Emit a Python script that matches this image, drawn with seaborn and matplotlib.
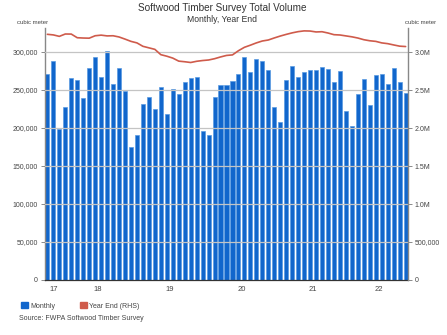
import numpy as np
import pandas as pd
import matplotlib
matplotlib.use("Agg")
import matplotlib.pyplot as plt
import seaborn as sns
from matplotlib.ticker import FuncFormatter, FixedLocator
from matplotlib.patches import Patch
from matplotlib.lines import Line2D

months = pd.date_range("2017-10-01", "2022-10-01", freq="MS").strftime("%Y-%m").tolist()

monthly = [270660, 288160, 198250, 227630, 265790, 263600, 239470, 278500, 293420, 266670,
           301300, 257460, 279380, 248680, 174560, 190350, 231140, 241230, 225440, 254390,
           218860, 251750, 244300, 260090, 265790, 266670, 196050, 191230, 241230, 256580,
           256580, 261400, 271050, 293860, 273250, 290790, 287720, 275880, 228070, 207460,
           263160, 281930, 267540, 273680, 275880, 275880, 280700, 278070, 260920, 274560,
           221930, 203070, 245180, 264910, 230700, 269300, 270660, 257460, 278950, 260530,
           245610]

year_end = [3.233, 3.225, 3.206, 3.237, 3.236, 3.188, 3.184, 3.182, 3.214, 3.222,
            3.212, 3.214, 3.198, 3.170, 3.140, 3.120, 3.075, 3.055, 3.035, 2.965,
            2.945, 2.920, 2.880, 2.872, 2.862, 2.878, 2.888, 2.895, 2.912, 2.935,
            2.955, 2.962, 3.017, 3.062, 3.090, 3.120, 3.145, 3.158, 3.185, 3.210,
            3.232, 3.252, 3.268, 3.278, 3.276, 3.264, 3.267, 3.250, 3.228, 3.224,
            3.212, 3.200, 3.184, 3.162, 3.148, 3.140, 3.120, 3.110, 3.093, 3.077,
            3.072]
year_end = [v * 1e6 for v in year_end]

year_labels = ["17", "18", "19", "20", "21", "22"]

df = pd.DataFrame({"month": months, "monthly": monthly, "year_end": year_end})
df["pos"] = np.arange(len(df))

sns.set_theme(style="white")
plt.rcParams["font.family"] = ["Liberation Sans", "DejaVu Sans"]

BLUE = "#1166cc"
RED = "#cf5b4b"
GRID = "#c4c4c4"
TXT = "#444444"

fig = plt.figure(figsize=(4.47, 3.35), dpi=100)
ax = fig.add_axes([45/447, 1-280/335, (408-45)/447, (280-28)/335])

sns.barplot(data=df, x="month", y="monthly", order=months, color=BLUE, width=0.68,
            edgecolor="#5a9be2", linewidth=0.5, saturation=1, ax=ax, zorder=2)

ax.set_xlim(-0.4, 60.4)
ax.set_ylim(0, 331600)
yt = [0, 50000, 100000, 150000, 200000, 250000, 300000]
ax.yaxis.set_major_locator(FixedLocator(yt))
ax.yaxis.set_major_formatter(FuncFormatter(lambda v, p: f"{int(v):,}"))
for v in yt[1:]:
    ax.axhline(v, color=GRID, lw=0.9, zorder=3)

# year positions from month strings
years = [m[:4] for m in months]
bounds = [i - 0.5 for i in range(1, len(years)) if years[i] != years[i-1]]
centers = []
for y in sorted(set(years)):
    idx = [i for i, yy in enumerate(years) if yy == y]
    centers.append((idx[0] + idx[-1]) / 2)
ax.set_xticks(bounds, minor=True)
ax.set_xticks(centers)
ax.set_xticklabels(year_labels)
ax.tick_params(axis="x", which="major", length=0, labelsize=5.5, labelcolor=TXT, pad=4)
ax.tick_params(axis="x", which="minor", length=3, width=0.6, color="#555555", direction="out")
ax.tick_params(axis="y", length=3, width=0.6, color="#777777", labelsize=5, labelcolor=TXT, pad=2, left=True)
ax.set_xlabel("")
ax.set_ylabel("")
for s in ["top", "right"]:
    ax.spines[s].set_visible(False)
ax.spines["left"].set_color("#888888")
ax.spines["left"].set_linewidth(1.0)
ax.spines["bottom"].set_color("#333333")
ax.spines["bottom"].set_linewidth(0.9)

ax2 = ax.twinx()
sns.lineplot(data=df, x="pos", y="year_end", color=RED, lw=1.2, ax=ax2, zorder=4)
ax2.set_ylim(0, 3316000)
yt2 = [0, 500000, 1000000, 1500000, 2000000, 2500000, 3000000]
ax2.yaxis.set_major_locator(FixedLocator(yt2))
ax2.yaxis.set_major_formatter(FuncFormatter(
    lambda v, p: "0" if v == 0 else (f"{v/1e6:.1f}M" if v >= 1e6 else f"{int(v):,}")))
ax2.tick_params(axis="y", length=3, width=0.6, color="#777777", labelsize=5, labelcolor=TXT, pad=2, right=True)
ax2.set_xlim(-0.4, 60.4)
ax2.set_xlabel("")
ax2.set_ylabel("")
for s in ["top", "left", "bottom"]:
    ax2.spines[s].set_visible(False)
ax2.spines["right"].set_color("#888888")
ax2.spines["right"].set_linewidth(1.0)
ax2.grid(False)
ax.grid(False)

fig.text(222/447, 1-8/335, "Softwood Timber Survey Total Volume", ha="center", va="center",
         fontsize=7.2, color="#333333")
fig.text(222/447, 1-20/335, "Monthly, Year End", ha="center", va="center",
         fontsize=6.2, color="#333333")
fig.text(33/447, 1-22/335, "cubic meter", ha="center", va="center", fontsize=4.3, color=TXT)
fig.text(421/447, 1-22/335, "cubic meter", ha="center", va="center", fontsize=4.3, color=TXT)

handles = [Patch(facecolor=BLUE, edgecolor=BLUE, label="Monthly"),
           Patch(facecolor=RED, edgecolor=RED, label="Year End (RHS)")]
fig.legend(handles=handles, loc="center left", bbox_to_anchor=(15/447, 1-306/335),
           ncol=2, frameon=False, fontsize=5, handlelength=1.0, handleheight=1.0,
           handletextpad=0.3, columnspacing=3.5, labelcolor=TXT)
fig.text(19/447, 1-318/335, "Source: FWPA Softwood Timber Survey", ha="left", va="center",
         fontsize=5, color=TXT)

fig.savefig("out.png", dpi=100)
